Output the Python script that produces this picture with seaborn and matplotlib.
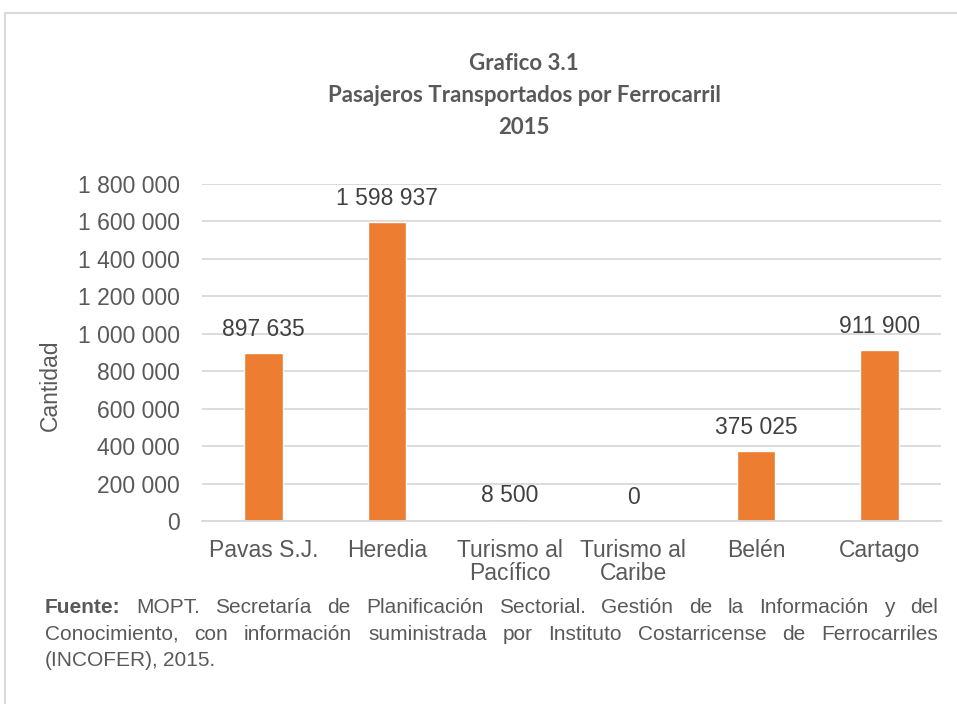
import matplotlib
matplotlib.use("Agg")
import matplotlib.pyplot as plt
import seaborn as sns
import pandas as pd
from matplotlib.patches import Rectangle

# data
categorias = ["Pavas S.J.", "Heredia", "Turismo al\nPacífico", "Turismo al\nCaribe", "Belén", "Cartago"]
pasajeros = [897635, 1598937, 8500, 0, 375025, 911900]
y_ticks = [0, 200000, 400000, 600000, 800000, 1000000, 1200000, 1400000, 1600000, 1800000]

titulo = ["Grafico 3.1", "Pasajeros Transportados por Ferrocarril", "2015"]
fuente = [
    ["Fuente:", "MOPT.", "Secretaría", "de", "Planificación", "Sectorial.", "Gestión", "de", "la",
     "Información", "y", "del"],
    ["Conocimiento,", "con", "información", "suministrada", "por", "Instituto", "Costarricense",
     "de", "Ferrocarriles"],
    ["(INCOFER),", "2015."],
]


def fmt(v):
    return f"{int(v):,}".replace(",", " ")


def main():
    sns.set_style("white")
    plt.rcParams["font.family"] = ["Liberation Sans", "DejaVu Sans"]

    W, H = 957, 704
    fig = plt.figure(figsize=(W / 100, H / 100), dpi=100)
    fig.patch.set_facecolor("white")

    # outer frame
    fig.patches.append(Rectangle((5 / W, -0.01), 1.0, 1 - 13 / H + 0.01, transform=fig.transFigure,
                                 fill=False, edgecolor="#D9D9D9", linewidth=1.5))

    ax = fig.add_axes([202 / W, 1 - 521 / H, (941 - 202) / W, (521 - 184) / H])
    df = pd.DataFrame({"categoria": categorias, "pasajeros": pasajeros})
    sns.barplot(data=df, x="categoria", y="pasajeros", color="#ED7D31", saturation=1,
                width=0.31, ax=ax)

    fs = 16.5
    ax.set_ylim(0, 1800000)
    ax.set_yticks(y_ticks)
    ax.set_yticklabels([fmt(v) for v in y_ticks], fontsize=fs, color="#595959")
    ax.set_xticks(range(len(categorias)))
    ax.set_xticklabels(categorias, fontsize=fs, color="#595959", linespacing=1.0)
    ax.tick_params(axis="both", length=0)
    ax.tick_params(axis="y", pad=16)
    ax.tick_params(axis="x", pad=13)
    ax.set_xlabel("")
    ax.set_ylabel("Cantidad", fontsize=fs, color="#595959")
    ax.yaxis.set_label_coords(-(202 - 62) / (941 - 202), (521 - 385) / 337)

    ax.grid(axis="y", color="#D9D9D9", linewidth=1.3)
    ax.set_axisbelow(True)
    for s in ["top", "right", "left"]:
        ax.spines[s].set_visible(False)
    ax.spines["bottom"].set_color("#D9D9D9")
    ax.spines["bottom"].set_linewidth(1.3)

    for i, v in enumerate(pasajeros):
        ax.annotate(fmt(v), (i, v), xytext=(0, 17), textcoords="offset pixels",
                    ha="center", va="baseline", fontsize=fs, color="#404040")

    # title
    for k, line in enumerate(titulo):
        fig.text(524 / W, 1 - (63 + 32 * k) / H, line, ha="center", va="center",
                 fontsize=16, fontweight="bold", color="#595959", family=["Lato", "DejaVu Sans"])

    # justified source text
    fig.canvas.draw()
    renderer = fig.canvas.get_renderer()
    x0, x1 = 45, 938
    fsrc = 15
    for k, words in enumerate(fuente):
        ypix = 613 + 26.5 * k
        texts = []
        for j, w in enumerate(words):
            t = fig.text(0, 1 - ypix / H, w, ha="left", va="baseline", fontsize=fsrc,
                         color="#595959", fontweight="bold" if (k == 0 and j == 0) else "normal")
            texts.append(t)
        widths = [t.get_window_extent(renderer).width for t in texts]
        if k < len(fuente) - 1:
            gap = (x1 - x0 - sum(widths)) / (len(words) - 1)
        else:
            gap = 4.5
        x = x0
        for t, w in zip(texts, widths):
            t.set_x(x / W)
            x += w + gap

    fig.savefig("out.png", dpi=100, facecolor="white")
    plt.close(fig)


if __name__ == "__main__":
    main()
